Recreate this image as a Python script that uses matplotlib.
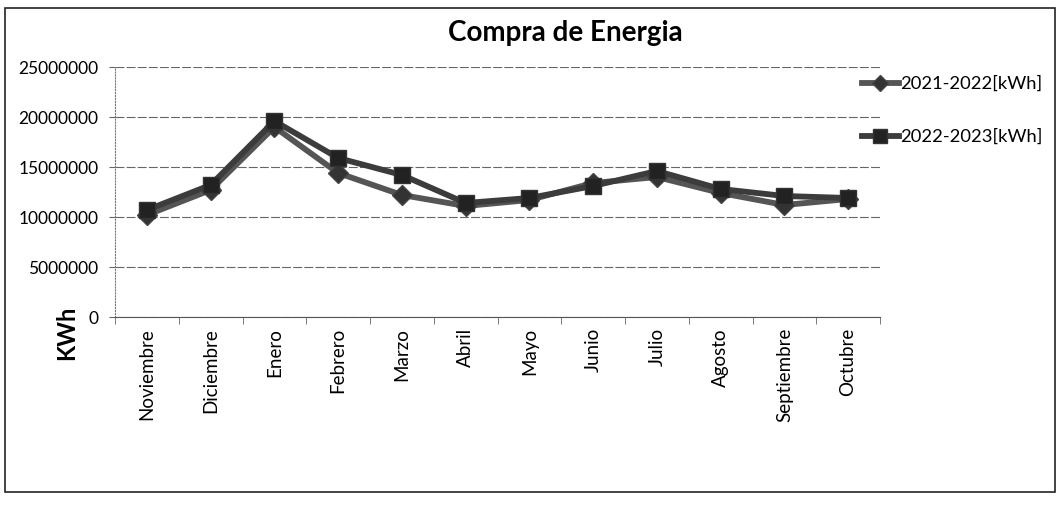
import matplotlib.pyplot as plt
from matplotlib.patches import Rectangle

# Datos
meses = ["Noviembre", "Diciembre", "Enero", "Febrero", "Marzo", "Abril",
         "Mayo", "Junio", "Julio", "Agosto", "Septiembre", "Octubre"]
compra_2021_2022 = [10200000, 12700000, 19000000, 14400000, 12200000, 11100000,
                    11700000, 13400000, 14000000, 12400000, 11200000, 11800000]
compra_2022_2023 = [10700000, 13200000, 19600000, 15900000, 14200000, 11400000,
                    11900000, 13100000, 14600000, 12800000, 12100000, 11900000]
y_ticks = [0, 5000000, 10000000, 15000000, 20000000, 25000000]

plt.rcParams['font.family'] = ['Lato', 'DejaVu Sans']

fig = plt.figure(figsize=(10.59, 5.20), dpi=100)
ax = fig.add_axes([115/1059, 1 - 317/520, (880-115)/1059, (317-67)/520])

x = list(range(len(meses)))
ax.plot(x, compra_2021_2022, color="#555555", lw=4.2, marker="D", ms=10,
        mfc="#333333", mec="#444444", label="2021-2022[kWh]", zorder=3)
ax.plot(x, compra_2022_2023, color="#3c3c3c", lw=4.2, marker="s", ms=12,
        mfc="#222222", mec="#333333", label="2022-2023[kWh]", zorder=4)

ax.set_xlim(-0.5, len(meses) - 0.5)
ax.set_ylim(0, 25000000)
ax.set_yticks(y_ticks)
ax.set_yticklabels([str(v) for v in y_ticks], fontsize=12.5)
ax.set_xticks(x)
ax.set_xticklabels(meses, rotation=90, fontsize=13.5)
ax.set_xticks([i - 0.5 for i in range(len(meses) + 1)], minor=True)
ax.tick_params(axis="x", which="major", length=0, pad=8)
ax.tick_params(axis="x", which="minor", length=5, color="#666666")
ax.tick_params(axis="y", length=4, color="#666666", pad=8)

ax.grid(axis="y", color="#666666", linestyle=(0, (8, 2)), linewidth=0.8)
ax.set_axisbelow(True)
for s in ["top", "right"]:
    ax.spines[s].set_visible(False)
ax.spines["left"].set_color("#777777")
ax.spines["left"].set_linestyle(":")
ax.spines["bottom"].set_color("#555555")

fig.text(565/1059, 1 - 33/520, "Compra de Energia", ha="center", va="center",
         fontsize=20, fontweight="bold")
fig.text(67/1059, 1 - 333/520, "KWh", ha="center", va="center",
         rotation=90, fontsize=17, fontweight="bold")

ax.legend(loc="upper left", bbox_to_anchor=(0.955, 1.03), frameon=False,
          fontsize=13.2, handlelength=2.0, handletextpad=0.1, labelspacing=2.0,
          markerscale=0.8)

fig.patches.append(Rectangle((5/1059, 1 - 492/520), 1050/1059, 484/520,
                             transform=fig.transFigure, fill=False,
                             edgecolor="#222222", lw=1.2))

fig.savefig("out.png", dpi=100)
